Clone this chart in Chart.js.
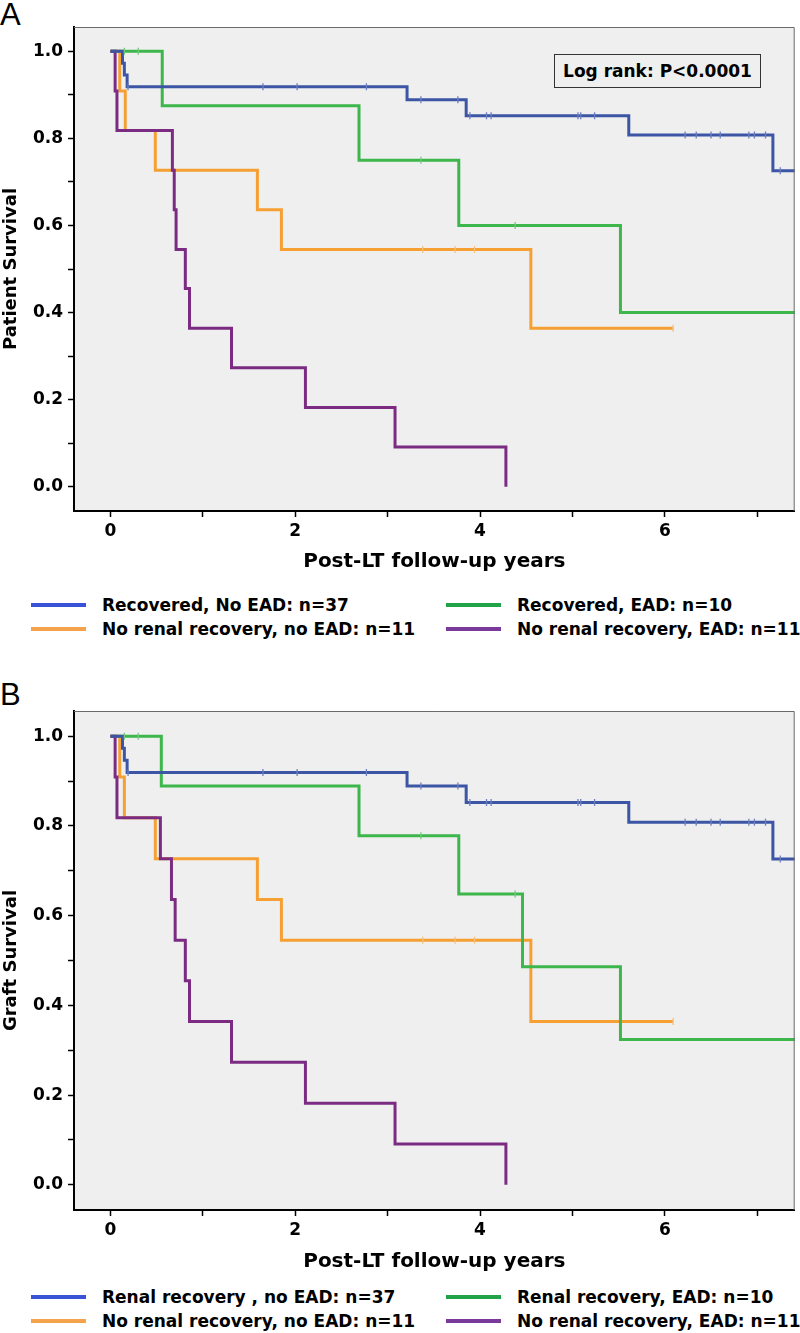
<!DOCTYPE html>
<html>
<head>
<meta charset="utf-8">
<script src="https://cdn.jsdelivr.net/npm/chart.js@4.4.1/dist/chart.umd.min.js"></script>
<style>
  html, body { margin: 0; padding: 0; background: #fff; }
  body { width: 800px; height: 1333px; position: relative; overflow: hidden; }
  .letter { position: absolute; left: 0; font: 31px "Liberation Sans", Arial, sans-serif; line-height: 1; color: #000; }
  .box { position: absolute; left: 0; width: 800px; }
  .legend { position: absolute; left: 0; width: 800px; height: 50px; font: bold 17px "DejaVu Sans", sans-serif; color: #000; }
  .legend .item { position: absolute; display: flex; align-items: center; white-space: nowrap; height: 22px; line-height: 22px; }
  .legend .swatch { width: 55px; height: 4px; margin-right: 16px; }
  .logrank { position: absolute; left: 554px; top: 54px; width: 205px; height: 32px; border: 1px solid #333;
    background: #efefef; font: bold 17px "DejaVu Sans", sans-serif; line-height: 32px; text-align: center; color: #000; z-index: 2; }
</style>
</head>
<body>
<div class="letter" style="top:-1px">A</div>
<div class="box" style="top:0; height:580px"><canvas id="chartA"></canvas></div>
<div class="logrank">Log rank: P&lt;0.0001</div>
<div class="legend" id="legendA" style="top:594px"></div>

<div class="letter" style="top:679px">B</div>
<div class="box" style="top:640px; height:640px"><canvas id="chartB"></canvas></div>
<div class="legend" id="legendB" style="top:1286px"></div>

<script>
// axis ticks
const xTicks = [0, 1, 2, 3, 4, 5, 6, 7];
const xTickLabels = ['0', '', '2', '', '4', '', '6', ''];
const yTicks = [0, 0.1, 0.2, 0.3, 0.4, 0.5, 0.6, 0.7, 0.8, 0.9, 1.0];
const yTickLabels = ['0.0', '', '0.2', '', '0.4', '', '0.6', '', '0.8', '', '1.0'];

// A: patient survival
const blueTimesA = [0, 0.13, 0.15, 0.18, 3.21, 3.85, 5.61, 7.17, 7.41];
const blueSurvA = [1, 0.973, 0.946, 0.919, 0.889, 0.852, 0.808, 0.726, 0.726];
const blueCensorA = [0.19, 1.65, 2.02, 2.77, 3.36, 3.76, 3.89, 4.07, 4.12, 5.06, 5.09, 5.24, 6.22, 6.34, 6.50, 6.60, 6.91, 6.97, 7.09, 7.25];
const greenTimesA = [0, 0.56, 2.69, 3.77, 5.52, 7.41];
const greenSurvA = [1, 0.875, 0.75, 0.60, 0.40, 0.40];
const greenCensorA = [0.15, 0.30, 3.36, 4.38];
const orangeTimesA = [0, 0.10, 0.16, 0.485, 1.59, 1.85, 4.55, 6.09];
const orangeSurvA = [1, 0.909, 0.818, 0.727, 0.636, 0.545, 0.364, 0.364];
const orangeCensorA = [3.38, 3.73, 3.94, 6.09];
const purpleTimesA = [0, 0.05, 0.07, 0.67, 0.69, 0.71, 0.81, 0.855, 1.31, 2.11, 3.08, 4.28];
const purpleSurvA = [1, 0.909, 0.818, 0.727, 0.636, 0.545, 0.455, 0.364, 0.273, 0.182, 0.091, 0];

// B: graft survival
const blueTimesB = [0, 0.13, 0.15, 0.18, 3.21, 3.85, 5.61, 7.17, 7.41];
const blueSurvB = [1, 0.973, 0.946, 0.919, 0.889, 0.852, 0.808, 0.726, 0.726];
const blueCensorB = [0.19, 1.65, 2.02, 2.77, 3.36, 3.76, 3.89, 4.07, 4.12, 5.06, 5.09, 5.24, 6.22, 6.34, 6.50, 6.60, 6.91, 6.97, 7.09, 7.25];
const greenTimesB = [0, 0.55, 2.69, 3.77, 4.46, 5.52, 7.41];
const greenSurvB = [1, 0.889, 0.778, 0.648, 0.486, 0.324, 0.324];
const greenCensorB = [0.15, 0.30, 3.36, 4.38];
const orangeTimesB = [0, 0.10, 0.15, 0.485, 1.59, 1.85, 4.55, 6.09];
const orangeSurvB = [1, 0.909, 0.818, 0.727, 0.636, 0.545, 0.364, 0.364];
const orangeCensorB = [3.38, 3.73, 3.94, 6.09];
const purpleTimesB = [0, 0.05, 0.07, 0.54, 0.66, 0.70, 0.81, 0.855, 1.31, 2.11, 3.08, 4.28];
const purpleSurvB = [1, 0.909, 0.818, 0.727, 0.636, 0.545, 0.455, 0.364, 0.273, 0.182, 0.091, 0];

const labelsA = ['Recovered, No EAD: n=37', 'Recovered, EAD: n=10', 'No renal recovery, no EAD: n=11', 'No renal recovery, EAD: n=11'];
const labelsB = ['Renal recovery , no EAD: n=37', 'Renal recovery, EAD: n=10', 'No renal recovery, no EAD: n=11', 'No renal recovery, EAD: n=11'];

const lineColors = ['#3c55a5', '#3db64b', '#f6a033', '#7b2c82'];
const censorColors = ['#6b7fc0', '#72c97c', '#f5c07a', '#9a5aa0'];
const legendColors = ['#3a52d6', '#22a34a', '#f4a24c', '#7a3a9c'];

const FONT = '"DejaVu Sans", sans-serif';

function survAt(times, surv, t) {
    let s = surv[0];
    for (let i = 0; i < times.length; i++) {
        if (times[i] <= t) s = surv[i];
    }
    return s;
}

const plotFrame = {
    id: 'plotFrame',
    beforeDraw(chart) {
        const { ctx, chartArea: a } = chart;
        ctx.save();
        ctx.fillStyle = '#efefef';
        ctx.fillRect(a.left, a.top, a.right - a.left, a.bottom - a.top);
        ctx.restore();
    },
    afterDraw(chart) {
        const { ctx, chartArea: a } = chart;
        ctx.save();
        ctx.strokeStyle = '#6a6a6a';
        ctx.lineWidth = 1;
        ctx.beginPath();
        ctx.moveTo(a.left, a.top + 0.5);
        ctx.lineTo(a.right - 0.5, a.top + 0.5);
        ctx.lineTo(a.right - 0.5, a.bottom);
        ctx.stroke();
        ctx.restore();
    }
};

function buildDatasets(curves) {
    const sets = [];
    // censor marks first so they sit on top of lines
    curves.forEach((c, i) => {
        sets.push({
            type: 'scatter',
            data: c.censor.map(t => ({ x: t, y: survAt(c.times, c.surv, t) })),
            pointStyle: 'line',
            rotation: 90,
            radius: 3.5,
            borderWidth: 1.3,
            borderColor: censorColors[i],
            backgroundColor: censorColors[i],
            showLine: false
        });
    });
    // draw order: blue on top, then purple, green, orange
    [0, 3, 1, 2].forEach(i => {
        const c = curves[i];
        sets.push({
            type: 'line',
            data: c.times.map((t, k) => ({ x: t, y: c.surv[k] })),
            stepped: true,
            borderColor: lineColors[i],
            borderWidth: 3,
            pointRadius: 0,
            fill: false
        });
    });
    return sets;
}

function makeChart(id, curves, yTitle, padTop, xHeight) {
    new Chart(document.getElementById(id), {
        type: 'line',
        data: { datasets: buildDatasets(curves) },
        options: {
            responsive: true,
            maintainAspectRatio: false,
            animation: false,
            layout: { padding: { top: padTop, right: 2, left: 0, bottom: 0 } },
            plugins: { legend: { display: false }, tooltip: { enabled: false } },
            scales: {
                x: {
                    type: 'linear',
                    min: -0.395,
                    max: 7.406,
                    afterBuildTicks: s => { s.ticks = xTicks.map(v => ({ value: v })); },
                    afterFit: s => { s.height = xHeight; },
                    grid: { drawOnChartArea: false, drawTicks: true, tickLength: 6, tickColor: '#000', tickWidth: 1.5 },
                    border: { display: true, color: '#000', width: 2 },
                    ticks: {
                        autoSkip: false,
                        maxRotation: 0,
                        padding: 4,
                        color: '#000',
                        font: { family: FONT, size: 17, weight: 'bold' },
                        callback: (v, i) => xTickLabels[i]
                    },
                    title: {
                        display: true,
                        text: 'Post-LT follow-up years',
                        color: '#000',
                        font: { family: FONT, size: 20, weight: 'bold' },
                        padding: { top: 0, bottom: 6 }
                    }
                },
                y: {
                    type: 'linear',
                    min: -0.056,
                    max: 1.056,
                    afterBuildTicks: s => { s.ticks = yTicks.map(v => ({ value: v })); },
                    afterFit: s => { s.width = 74; },
                    grid: { drawOnChartArea: false, drawTicks: true, tickLength: 6, tickColor: '#000', tickWidth: 1.5 },
                    border: { display: true, color: '#000', width: 2 },
                    ticks: {
                        autoSkip: false,
                        padding: 5,
                        color: '#000',
                        font: { family: FONT, size: 17, weight: 'bold' },
                        callback: (v, i) => yTickLabels[i]
                    },
                    title: {
                        display: true,
                        text: yTitle,
                        color: '#000',
                        font: { family: FONT, size: 18, weight: 'bold' },
                        padding: { top: 1, bottom: 0 }
                    }
                }
            }
        },
        plugins: [plotFrame]
    });
}

function makeLegend(id, labels) {
    const el = document.getElementById(id);
    const pos = [[31, 0], [446, 0], [31, 24], [446, 24]];
    labels.forEach((lab, i) => {
        const item = document.createElement('div');
        item.className = 'item';
        item.style.left = pos[i][0] + 'px';
        item.style.top = pos[i][1] + 'px';
        const sw = document.createElement('span');
        sw.className = 'swatch';
        sw.style.background = legendColors[i];
        const tx = document.createElement('span');
        tx.textContent = lab;
        item.appendChild(sw);
        item.appendChild(tx);
        el.appendChild(item);
    });
}

makeChart('chartA', [
    { times: blueTimesA, surv: blueSurvA, censor: blueCensorA },
    { times: greenTimesA, surv: greenSurvA, censor: greenCensorA },
    { times: orangeTimesA, surv: orangeSurvA, censor: orangeCensorA },
    { times: purpleTimesA, surv: purpleSurvA, censor: [] }
], 'Patient Survival', 27, 69);

makeChart('chartB', [
    { times: blueTimesB, surv: blueSurvB, censor: blueCensorB },
    { times: greenTimesB, surv: greenSurvB, censor: greenCensorB },
    { times: orangeTimesB, surv: orangeSurvB, censor: orangeCensorB },
    { times: purpleTimesB, surv: purpleSurvB, censor: [] }
], 'Graft Survival', 71, 70);

makeLegend('legendA', labelsA);
makeLegend('legendB', labelsB);
</script>
</body>
</html>
